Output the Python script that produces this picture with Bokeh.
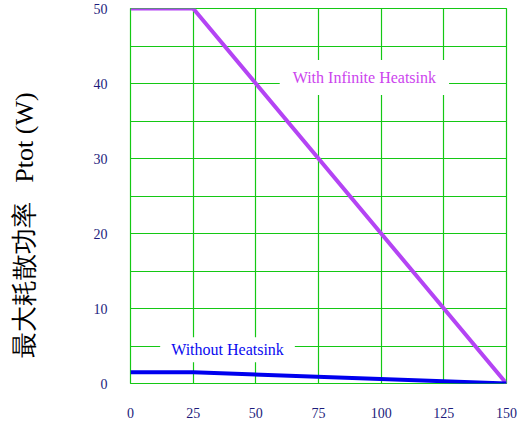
from bokeh.plotting import figure
from bokeh.models import Range1d, SingleIntervalTicker, Label
from bokeh.embed import file_html
from bokeh.resources import INLINE

# data
temps = [0, 25, 150]
p_infinite = [50, 50, 0]
p_without = [1.5, 1.5, 0]
x_ticks_interval = 25
y_label_interval = 10
y_grid_interval = 5
ylabel_cn = "最大耗散功率"
ylabel_en = "Ptot (W)"
label_inf = "With Infinite Heatsink"
label_none = "Without Heatsink"

GRID = "#14c814"
TICK = "#1c1c7c"
SERIF = "Liberation Serif"

W, H = 520, 420
FL, FB = 130, 383  # frame left / bottom in page pixels
p = figure(width=W, height=H, output_backend="svg", toolbar_location=None,
           x_range=Range1d(0, 150), y_range=Range1d(0, 50),
           min_border_left=FL, min_border_right=14, min_border_top=8,
           min_border_bottom=H - FB)

p.background_fill_color = "white"
p.border_fill_color = "white"
p.outline_line_color = GRID
p.outline_line_width = 1.2

# axes
p.xaxis.ticker = SingleIntervalTicker(interval=x_ticks_interval)
p.yaxis.ticker = SingleIntervalTicker(interval=y_label_interval)
for ax in (p.xaxis[0], p.yaxis[0]):
    ax.axis_line_color = None
    ax.major_tick_line_color = None
    ax.minor_tick_line_color = None
    ax.major_label_text_font = SERIF
    ax.major_label_text_font_size = "14px"
    ax.major_label_text_color = TICK
p.yaxis.major_label_standoff = 17
p.xaxis.major_label_standoff = 18

# y axis title: one line, padded at its end to sit lower along the axis
gap = "\u00a0" * 3
pad = "\u00a0" * 9
p.yaxis.axis_label = ylabel_cn + gap + ylabel_en + pad
p.yaxis.axis_label_standoff = 52
p.yaxis.axis_label_text_font = SERIF
p.yaxis.axis_label_text_font_size = "26px"
p.yaxis.axis_label_text_font_style = "normal"
p.yaxis.axis_label_text_color = "black"

# grid
p.xgrid.ticker = SingleIntervalTicker(interval=x_ticks_interval)
p.ygrid.ticker = SingleIntervalTicker(interval=y_grid_interval)
for g in (p.xgrid[0], p.ygrid[0]):
    g.grid_line_color = GRID
    g.grid_line_width = 1.2

# lines
p.line(temps, p_infinite, line_color="#b444f4", line_width=4)
p.line(temps, p_without, line_color="#0000ee", line_width=4)

# annotations with white boxes
p.add_layout(Label(x=93.3, y=40.8, text=label_inf, text_align="center",
                   text_baseline="middle", text_font=SERIF, text_font_size="16px",
                   text_color="#cc44ee", background_fill_color="white",
                   padding=(13, 9)))
p.add_layout(Label(x=38.7, y=4.5, text=label_none, text_align="center",
                   text_baseline="middle", text_font=SERIF, text_font_size="16px",
                   text_color="#0a0af0", background_fill_color="white",
                   padding=(11, 4)))

open("out.html", "w").write(file_html(p, INLINE))
